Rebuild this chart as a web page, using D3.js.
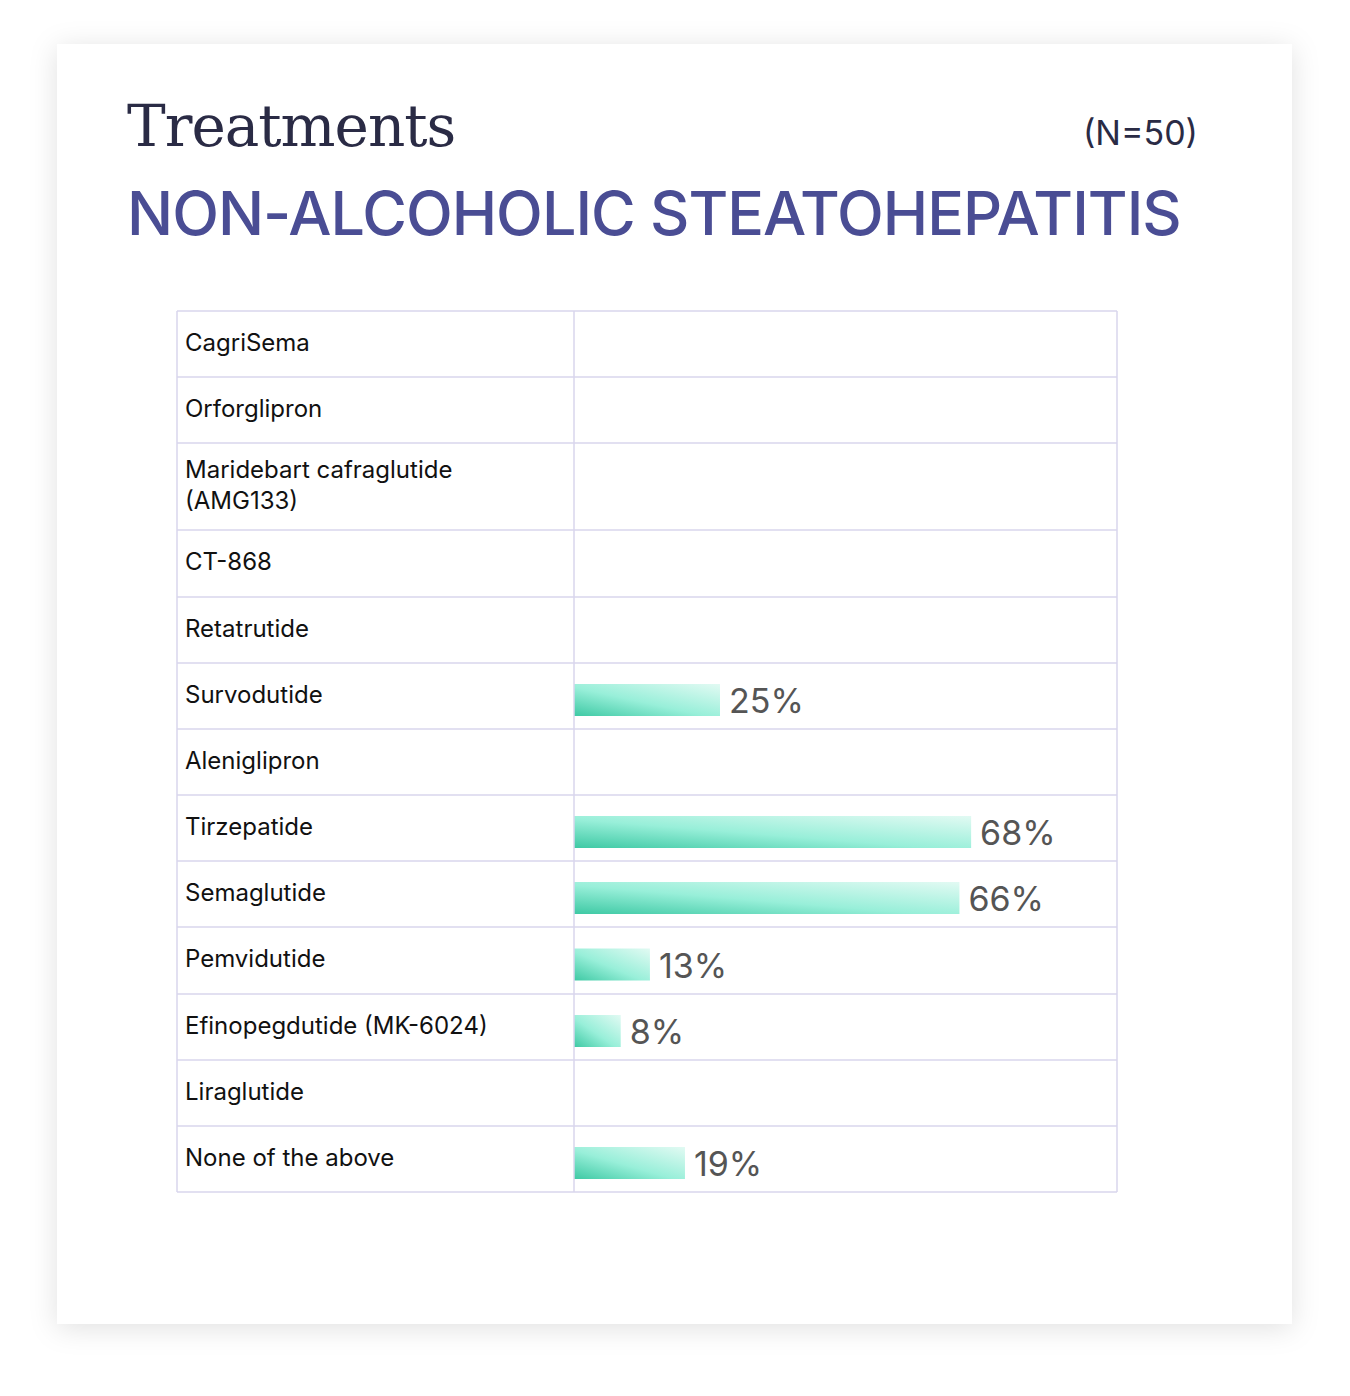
<!DOCTYPE html>
<html><head><meta charset="utf-8">
<script src="https://cdn.jsdelivr.net/npm/d3@7"></script>
<style>body{margin:0;background:#fff}</style></head>
<body><svg id="chart" width="1350" height="1396"></svg>
<script>
const categories = ["CagriSema","Orforglipron","Maridebart cafraglutide\n(AMG133)","CT-868","Retatrutide","Survodutide","Aleniglipron","Tirzepatide","Semaglutide","Pemvidutide","Efinopegdutide (MK-6024)","Liraglutide","None of the above"];
const values = [null,null,null,null,null,25,null,68,66,13,8,null,19];
const rowHeights = [66,66,87,67,66,66,66,66,66,67,66,66,66];

const svg = d3.select("#chart");
const defs = svg.append("defs");
const f = defs.append("filter").attr("id","sh").attr("x","-10%").attr("y","-10%").attr("width","120%").attr("height","120%");
f.append("feDropShadow").attr("dx",0).attr("dy",4).attr("stdDeviation",14).attr("flood-color","#000").attr("flood-opacity",0.12);
const g = defs.append("linearGradient").attr("id","bar").attr("x1","0").attr("y1","1").attr("x2","1").attr("y2","0");
g.append("stop").attr("offset","0%").attr("stop-color","#3ec9a4");
g.append("stop").attr("offset","45%").attr("stop-color","#98efd9");
g.append("stop").attr("offset","100%").attr("stop-color","#e2faf3");

svg.append("rect").attr("x",57).attr("y",44).attr("width",1235).attr("height",1280).attr("fill","#fff").attr("filter","url(#sh)");

svg.append("text").attr("x",127).attr("y",146).attr("font-family","'DejaVu Serif',serif").attr("font-size",58).attr("fill","#2a2b45").attr("letter-spacing",-1).text("Treatments");
svg.append("text").attr("x",1198).attr("y",145).attr("text-anchor","end").attr("font-family","Inter,sans-serif").attr("font-size",34).attr("fill","#2a2b45").text("(N=50)");
svg.append("text").attr("x",127).attr("y",235).attr("font-family","Inter,sans-serif").attr("font-size",61).attr("font-weight",500).attr("fill","#4a4d94").attr("letter-spacing",-1).text("NON-ALCOHOLIC STEATOHEPATITIS");

const tTop = 311, tLeft = 177, tMid = 574, tRight = 1117;
const ys = [tTop]; rowHeights.forEach(h => ys.push(ys[ys.length-1]+h));
const x = d3.scaleLinear().domain([0,100]).range([tMid, tMid+584]);
const grid = "#d8d6ec";

const rows = svg.append("g").selectAll("g").data(categories).join("g")
  .attr("transform",(d,i)=>`translate(0,${ys[i]})`);
rows.each(function(d,i){
  const r = d3.select(this), h = rowHeights[i];
  const lines = d.split("\n");
  const t = r.append("text").attr("font-family","Inter,sans-serif").attr("font-size",24).attr("fill","#111");
  lines.forEach((l,j)=>t.append("tspan").attr("x",185).attr("y",lines.length>1 ? 35+j*31 : 40).text(l));
  const v = values[i];
  if (v != null) {
    const cy = h/2 + 4;
    r.append("rect").attr("x",x(0)).attr("y",cy-16).attr("width",x(v)-x(0)).attr("height",32).attr("fill","url(#bar)");
    r.append("text").attr("x",x(v)+9).attr("y",cy+13).attr("font-family","Inter,sans-serif").attr("font-size",34).attr("fill","#555").text(v+"%");
  }
});

const gl = svg.append("g").attr("stroke",grid).attr("stroke-width",1.5);
gl.selectAll("line.h").data(ys).join("line").attr("x1",tLeft).attr("x2",tRight).attr("y1",d=>d).attr("y2",d=>d);
gl.selectAll("line.v").data([tLeft,tMid,tRight]).join("line").attr("x1",d=>d).attr("x2",d=>d).attr("y1",tTop).attr("y2",ys[ys.length-1]);
</script></body></html>
